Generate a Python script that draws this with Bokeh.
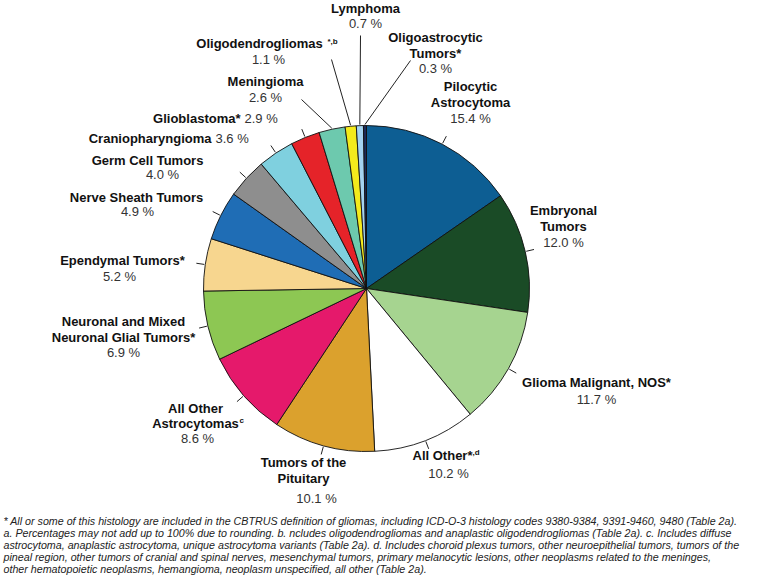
import math
from bokeh.plotting import figure
from bokeh.models import Range1d
from bokeh.core.properties import value
from bokeh.embed import file_html
from bokeh.resources import INLINE

# ---------------- data ----------------
categories = [
    "Pilocytic\nAstrocytoma",
    "Embryonal\nTumors",
    "Glioma Malignant, NOS*",
    "All Other*",
    "Tumors of the\nPituitary",
    "All Other\nAstrocytomas",
    "Neuronal and Mixed\nNeuronal Glial Tumors*",
    "Ependymal Tumors*",
    "Nerve Sheath Tumors",
    "Germ Cell Tumors",
    "Craniopharyngioma",
    "Glioblastoma*",
    "Meningioma",
    "Oligodendrogliomas",
    "Lymphoma",
    "Oligoastrocytic\nTumors*",
]
superscripts = ["", "", "", ",d", "", "c", "", "", "", "", "", "", "", "*,b", "", ""]
values = [15.4, 12.0, 11.7, 10.2, 10.1, 8.6, 6.9, 5.2, 4.9, 4.0, 3.6, 2.9, 2.6, 1.1, 0.7, 0.3]
colors = [
    "#0d5e93", "#1a4b26", "#a6d490", "#ffffff", "#dba12d", "#e5196b",
    "#8dc753", "#f7d68f", "#1f6db5", "#8e8e8e", "#7fd0df", "#e52329",
    "#6dc9ae", "#f4ea1c", "#a4d3f0", "#1c2958",
]
footnote_lines = [
    "* All or some of this histology are included in the CBTRUS definition of gliomas, including ICD-O-3 histology codes 9380-9384, 9391-9460, 9480 (Table 2a).",
    "a. Percentages may not add up to 100% due to rounding. b. ncludes oligodendrogliomas and anaplastic oligodendrogliomas (Table 2a). c. Includes diffuse",
    "astrocytoma, anaplastic astrocytoma, unique  astrocytoma variants (Table 2a). d. Includes choroid plexus tumors, other neuroepithelial tumors, tumors of the",
    " pineal region, other tumors of cranial and spinal nerves, mesenchymal tumors, primary melanocytic lesions, other neoplasms related to the meninges,",
    "other hematopoietic neoplasms, hemangioma, neoplasm unspecified, all other (Table 2a).",
]

# ---------------- layout (page pixel coordinates) ----------------
W, H = 757, 578
def X(px):
    return px
def Y(py):
    return H - py

CX, CY, R = 366, 288, 163

LAYOUT = [
    dict(kind="stack", x=470, ys=[86, 102], px=470, py=118),
    dict(kind="stack", x=563, ys=[210, 226], px=563, py=242),
    dict(kind="stack", x=596, ys=[382], px=596, py=399),
    dict(kind="stack", x=442, ys=[455], px=448, py=473, sx=472, sy=452),
    dict(kind="stack", x=303, ys=[462, 478], px=316, py=498),
    dict(kind="stack", x=195, ys=[408, 423], px=197, py=438, sx=239, sy=420),
    dict(kind="stack", x=123, ys=[321, 337], px=123, py=352),
    dict(kind="stack", x=122, ys=[260], px=119, py=276),
    dict(kind="stack", x=136, ys=[197], px=137, py=211),
    dict(kind="stack", x=147, ys=[160], px=162, py=174),
    dict(kind="inline", x=211, y=138),
    dict(kind="inline", x=240, y=118),
    dict(kind="stack", x=265, ys=[81], px=265, py=97, lead=(301, 99)),
    dict(kind="stack", x=259, ys=[43], px=268, py=59, sx=327, sy=41, lead=(331, 59)),
    dict(kind="stack", x=365, ys=[8], px=365, py=23, lead=(360, 35)),
    dict(kind="stack", x=435, ys=[37, 53], px=435, py=68, lead=(410, 60)),
]
FOOT_X, FOOT_Y0, FOOT_DY = 3, 520, 12

# ---------------- figure ----------------
p = figure(width=W, height=H, x_range=Range1d(0, W), y_range=Range1d(0, H),
           output_backend="svg", toolbar_location=None,
           x_axis_type=None, y_axis_type=None, min_border=0)
p.outline_line_color = None
p.background_fill_color = "white"
p.border_fill_color = "white"

total = sum(values)
starts, ends, mids = [], [], []
cum = 0.0
for v in values:
    a0 = math.pi / 2 - 2 * math.pi * cum / total
    cum += v
    a1 = math.pi / 2 - 2 * math.pi * cum / total
    starts.append(a0)
    ends.append(a1)
    mids.append((a0 + a1) / 2)

cxd, cyd = X(CX), Y(CY)
p.wedge(x=[cxd] * len(values), y=[cyd] * len(values), radius=R,
        start_angle=starts, end_angle=ends, direction="clock",
        fill_color=colors, line_color="#111111", line_width=0.9)

# ticks and leader lines
xs, ys = [], []
for i, m in enumerate(mids):
    lay = LAYOUT[i]
    if "lead" in lay:
        x0 = cxd + (R + 1) * math.cos(m)
        y0 = cyd + (R + 1) * math.sin(m)
        xs.append([x0, X(lay["lead"][0])])
        ys.append([y0, Y(lay["lead"][1])])
    else:
        xs.append([cxd + (R + 1) * math.cos(m), cxd + (R + 9) * math.cos(m)])
        ys.append([cyd + (R + 1) * math.sin(m), cyd + (R + 9) * math.sin(m)])
p.multi_line(xs=xs, ys=ys, line_color="#222222", line_width=1)

# labels
bx, by, bt = [], [], []          # bold centered
px_, py_, pt = [], [], []        # pct centered
ibx, iby, ibt = [], [], []       # inline bold right-aligned
ipx, ipy, ipt = [], [], []       # inline pct left-aligned
sx, sy, st = [], [], []          # superscripts
for i, name in enumerate(categories):
    lay = LAYOUT[i]
    pct = f"{values[i]:.1f} %"
    if lay["kind"] == "stack":
        for line, yy in zip(name.split("\n"), lay["ys"]):
            bx.append(X(lay["x"])); by.append(Y(yy)); bt.append(line)
        px_.append(X(lay["px"])); py_.append(Y(lay["py"])); pt.append(pct)
    else:
        ibx.append(X(lay["x"])); iby.append(Y(lay["y"])); ibt.append(name)
        ipx.append(X(lay["x"] + 4)); ipy.append(Y(lay["y"])); ipt.append(pct)
    if superscripts[i]:
        sx.append(X(lay["sx"])); sy.append(Y(lay["sy"])); st.append(superscripts[i])

FONT = value("Liberation Sans")
common = dict(text_font=FONT, text_baseline="middle")
p.text(x=bx, y=by, text=bt, text_font_size="13px", text_font_style="bold",
       text_align="center", text_color="#111111", **common)
p.text(x=px_, y=py_, text=pt, text_font_size="13px", text_align="center",
       text_color="#333333", **common)
p.text(x=ibx, y=iby, text=ibt, text_font_size="13px", text_font_style="bold",
       text_align="right", text_color="#111111", **common)
p.text(x=ipx, y=ipy, text=ipt, text_font_size="13px", text_align="left",
       text_color="#333333", **common)
p.text(x=sx, y=sy, text=st, text_font_size="8px", text_font_style="bold",
       text_align="left", text_color="#111111", **common)

# footnote
fy = [Y(FOOT_Y0 + k * FOOT_DY) for k in range(len(footnote_lines))]
p.text(x=[X(FOOT_X)] * len(footnote_lines), y=fy, text=footnote_lines,
       text_font=FONT, text_font_style="italic",
       text_font_size="10.7px", text_align="left", text_baseline="middle",
       text_color="#222222")

open("out.html", "w").write(file_html(p, INLINE))
